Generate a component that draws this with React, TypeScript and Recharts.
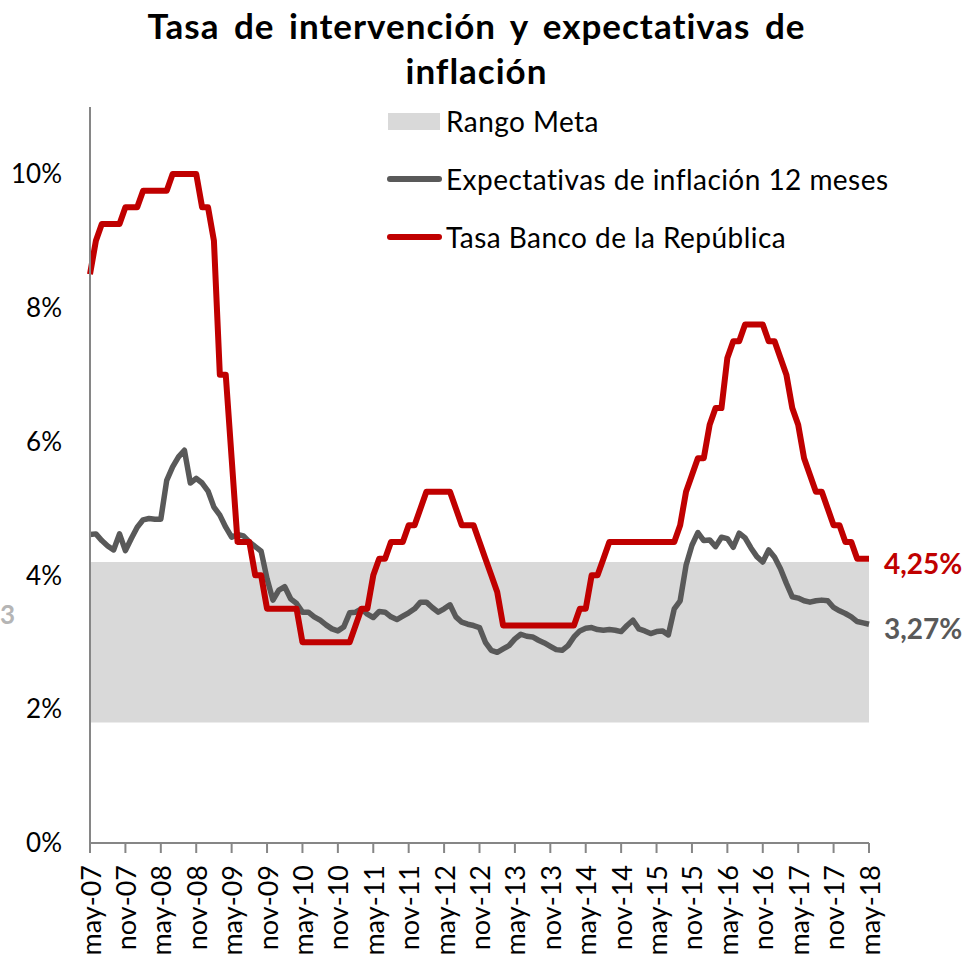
import React from "react";
import {
  ComposedChart,
  Area,
  Line,
  XAxis,
  YAxis,
  Legend,
} from "recharts";

// mensual, may-07 a may-18
const tasaBanRep = [
  8.5, 9.0, 9.25, 9.25, 9.25, 9.25, 9.5, 9.5, 9.5, 9.75,
  9.75, 9.75, 9.75, 9.75, 10, 10, 10, 10, 10, 9.5,
  9.5, 9.0, 7.0, 7.0, 5.75, 4.5, 4.5, 4.5, 4.0, 4.0,
  3.5, 3.5, 3.5, 3.5, 3.5, 3.5, 3.0, 3.0, 3.0, 3.0,
  3.0, 3.0, 3.0, 3.0, 3.0, 3.25, 3.5, 3.5, 4.0, 4.25,
  4.25, 4.5, 4.5, 4.5, 4.75, 4.75, 5.0, 5.25, 5.25, 5.25,
  5.25, 5.25, 5.0, 4.75, 4.75, 4.75, 4.5, 4.25, 4.0, 3.75,
  3.25, 3.25, 3.25, 3.25, 3.25, 3.25, 3.25, 3.25, 3.25, 3.25,
  3.25, 3.25, 3.25, 3.5, 3.5, 4.0, 4.0, 4.25, 4.5, 4.5,
  4.5, 4.5, 4.5, 4.5, 4.5, 4.5, 4.5, 4.5, 4.5, 4.5,
  4.75, 5.25, 5.5, 5.75, 5.75, 6.25, 6.5, 6.5, 7.25, 7.5,
  7.5, 7.75, 7.75, 7.75, 7.75, 7.5, 7.5, 7.25, 7.0, 6.5,
  6.25, 5.75, 5.5, 5.25, 5.25, 5.0, 4.75, 4.75, 4.5, 4.5,
  4.25, 4.25, 4.25,
];

const expectativas12m = [
  4.61, 4.62, 4.52, 4.44, 4.38, 4.62, 4.37, 4.55, 4.72, 4.83,
  4.85, 4.84, 4.84, 5.42, 5.62, 5.77, 5.87, 5.38, 5.45, 5.38,
  5.26, 5.02, 4.9, 4.72, 4.57, 4.61, 4.59, 4.5, 4.43, 4.36,
  3.95, 3.63, 3.78, 3.83, 3.65, 3.58, 3.45, 3.45, 3.38, 3.33,
  3.26, 3.2, 3.17, 3.23, 3.44, 3.45, 3.5, 3.42, 3.37, 3.46,
  3.45, 3.38, 3.34, 3.39, 3.44, 3.5, 3.6, 3.6, 3.52, 3.45,
  3.5, 3.56, 3.38, 3.3, 3.27, 3.25, 3.22, 3.0, 2.88, 2.85,
  2.9, 2.95, 3.05, 3.12, 3.09, 3.08, 3.03, 2.99, 2.94, 2.89,
  2.88, 2.95, 3.08, 3.17, 3.21, 3.22, 3.19, 3.18, 3.19, 3.18,
  3.16, 3.25, 3.33, 3.2, 3.17, 3.13, 3.16, 3.17, 3.11, 3.5,
  3.62, 4.15, 4.45, 4.64, 4.52, 4.53, 4.43, 4.57, 4.55, 4.42,
  4.63, 4.56, 4.41, 4.28, 4.2, 4.38, 4.27, 4.1, 3.88, 3.68,
  3.66, 3.62, 3.6, 3.62, 3.63, 3.62, 3.52, 3.47, 3.43, 3.38,
  3.31, 3.29, 3.27,
];

const rangoMeta: [number, number] = [1.8, 4.2];

const xTickLabels = [
  "may-07", "nov-07", "may-08", "nov-08", "may-09", "nov-09",
  "may-10", "nov-10", "may-11", "nov-11", "may-12", "nov-12",
  "may-13", "nov-13", "may-14", "nov-14", "may-15", "nov-15",
  "may-16", "nov-16", "may-17", "nov-17", "may-18",
];

const yTicks = [0, 2, 4, 6, 8, 10];

const legendOrder = [
  "Rango Meta",
  "Expectativas de inflación 12 meses",
  "Tasa Banco de la República",
];

const data = tasaBanRep.map((tasa, i) => ({
  mes: i,
  tasa,
  expectativas: expectativas12m[i],
  rango: rangoMeta,
}));

const xTicks = xTickLabels.map((_, i) => i * 6);

const FONT = "Lato, 'Open Sans', sans-serif";
const RED = "#c00000";
const GRAY = "#595959";
const AXIS = "#868686";

const XTick = (props: any) => {
  const { x, y, payload } = props;
  return (
    <text
      x={x}
      y={y + 10}
      transform={`rotate(-90, ${x}, ${y + 10})`}
      textAnchor="end"
      dominantBaseline="central"
      fontSize={27}
      fontFamily={FONT}
      fill="#000"
    >
      {xTickLabels[payload.value / 6]}
    </text>
  );
};

const endLabel = (color: string) => (props: any) => {
  const { x, y, index, value } = props;
  if (index !== data.length - 1) return null;
  return (
    <text
      x={x + 15}
      y={y + 4}
      dominantBaseline="central"
      fontSize={28}
      fontWeight={700}
      fontFamily={FONT}
      fill={color}
    >
      {Number(value).toFixed(2).replace(".", ",") + "%"}
    </text>
  );
};

const LegendBox = (props: any) => {
  const items = [...(props.payload || [])].sort(
    (a: any, b: any) => legendOrder.indexOf(a.value) - legendOrder.indexOf(b.value)
  );
  return (
    <div
      style={{
        fontFamily: FONT,
        fontSize: 28,
        letterSpacing: 0.45,
        color: "#000",
      }}
    >
      {items.map((entry: any) => (
        <div
          key={entry.value}
          style={{ display: "flex", alignItems: "center", height: 58 }}
        >
          {entry.type === "rect" ? (
            <div
              style={{
                width: 52,
                height: 17,
                background: "#d9d9d9",
                marginLeft: 3,
                marginRight: 6,
              }}
            />
          ) : (
            <div
              style={{
                width: 55,
                height: 6,
                borderRadius: 3,
                background: entry.color,
                marginLeft: 2,
                marginRight: 4,
              }}
            />
          )}
          <span style={{ whiteSpace: "nowrap" }}>{entry.value}</span>
        </div>
      ))}
    </div>
  );
};

export default function App() {
  return (
    <div
      style={{
        position: "absolute",
        left: 0,
        top: 0,
        width: 971,
        height: 959,
        background: "#fff",
        fontFamily: FONT,
      }}
    >
      <div
        style={{
          position: "absolute",
          left: 0,
          top: 3,
          width: 953,
          textAlign: "center",
          fontSize: 35,
          fontWeight: 700,
          letterSpacing: 1,
          wordSpacing: 5,
          lineHeight: "45px",
          color: "#000",
        }}
      >
        Tasa de intervención y expectativas de
        <br />
        inflación
      </div>
      <div
        style={{
          position: "absolute",
          left: 0,
          top: 598,
          fontSize: 26,
          fontWeight: 700,
          color: "#b5b5b5",
        }}
      >
        3
      </div>
      <ComposedChart
        width={971}
        height={959}
        data={data}
        margin={{ top: 107, right: 102, bottom: 6, left: 10 }}
      >
        <XAxis
          dataKey="mes"
          type="number"
          domain={[0, 132]}
          ticks={xTicks}
          interval={0}
          height={110}
          tickSize={10}
          axisLine={{ stroke: AXIS, strokeWidth: 2 }}
          tickLine={{ stroke: AXIS, strokeWidth: 2 }}
          tick={<XTick />}
        />
        <YAxis
          type="number"
          domain={[0, 11]}
          ticks={yTicks}
          interval={0}
          width={80}
          tickSize={0}
          tickMargin={28}
          tickLine={false}
          axisLine={{ stroke: AXIS, strokeWidth: 2 }}
          tickFormatter={(v) => `${v}%`}
          tick={{ fontSize: 26, fill: "#000", fontFamily: FONT }}
        />
        <Legend
          layout="vertical"
          align="center"
          verticalAlign="middle"
          wrapperStyle={{ left: 385, top: 92, width: 560, height: 176 }}
          content={<LegendBox />}
        />
        <Area
          dataKey="rango"
          name="Rango Meta"
          type="linear"
          fill="#d9d9d9"
          fillOpacity={1}
          stroke="none"
          legendType="rect"
          isAnimationActive={false}
        />
        <Line
          dataKey="expectativas"
          name="Expectativas de inflación 12 meses"
          type="linear"
          stroke={GRAY}
          strokeWidth={5.5}
          strokeLinejoin="round"
          dot={false}
          legendType="line"
          label={endLabel(GRAY)}
          isAnimationActive={false}
        />
        <Line
          dataKey="tasa"
          name="Tasa Banco de la República"
          type="linear"
          stroke={RED}
          strokeWidth={6}
          strokeLinejoin="round"
          dot={false}
          legendType="line"
          label={endLabel(RED)}
          isAnimationActive={false}
        />
      </ComposedChart>
    </div>
  );
}
